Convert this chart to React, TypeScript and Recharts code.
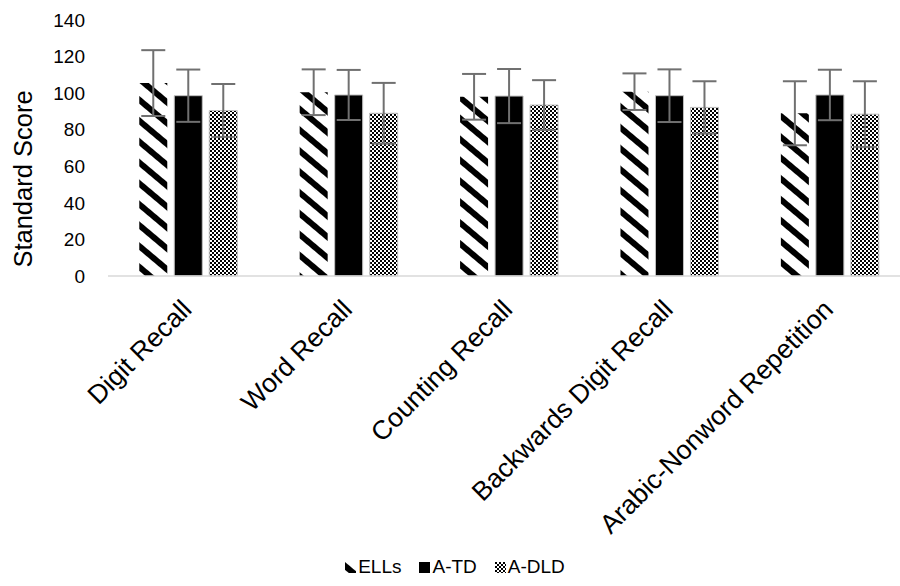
import React from "react";
import {
	BarChart,
	Bar,
	XAxis,
	YAxis,
	ErrorBar,
	Legend,
} from "recharts";

const categories = [
	"Digit Recall",
	"Word Recall",
	"Counting Recall",
	"Backwards Digit Recall",
	"Arabic-Nonword Repetition",
];
const ellsMean = [105.5, 100.5, 98, 100.8, 89];
const ellsSd = [18, 12.5, 12.5, 10, 17.5];
const atdMean = [98.6, 99, 98.4, 98.6, 99];
const atdSd = [14.3, 13.7, 14.8, 14.4, 13.8];
const adldMean = [90.5, 89, 93.5, 92.2, 88.5];
const adldSd = [14.5, 16.6, 13.6, 14.3, 18];
const yTicks = [0, 20, 40, 60, 80, 100, 120, 140];

const seriesInfo = [
	{ key: "ells", name: "ELLs", fill: "url(#stripes)" },
	{ key: "atd", name: "A-TD", fill: "#000000" },
	{ key: "adld", name: "A-DLD", fill: "url(#checker)" },
];

const data = categories.map((c, i) => ({
	name: c,
	ells: ellsMean[i],
	ellsErr: ellsSd[i],
	atd: atdMean[i],
	atdErr: atdSd[i],
	adld: adldMean[i],
	adldErr: adldSd[i],
}));

const FONT = "'Liberation Sans', Arial, sans-serif";

const AngledTick = (props: any) => {
	const { x, y, payload } = props;
	const ax = x + 5;
	const ay = y + 33;
	return (
		<text
			x={ax}
			y={ay}
			transform={`rotate(-45, ${ax}, ${ay})`}
			textAnchor="end"
			fontSize={26.5}
			fontFamily={FONT}
			fill="#000"
		>
			{payload.value}
		</text>
	);
};

const LegendContent = () => (
	<div
		style={{
			display: "flex",
			justifyContent: "center",
			alignItems: "center",
			height: 30,
			fontFamily: FONT,
			fontSize: 19,
			color: "#000",
		}}
	>
		{seriesInfo.map((s) => (
			<div
				key={s.key}
				style={{ display: "flex", alignItems: "baseline", margin: "0 9px" }}
			>
				<svg width={11} height={11} style={{ marginRight: 2 }}>
					<rect width={11} height={11} fill={s.fill} />
				</svg>
				<span>{s.name}</span>
			</div>
		))}
	</div>
);

const App = () => {
	return (
		<div
			style={{
				position: "absolute",
				left: 0,
				top: 0,
				width: 900,
				height: 586,
				overflow: "hidden",
				background: "#fff",
			}}
		>
			<BarChart
				width={910}
				height={586}
				data={data}
				margin={{ top: 20, right: 0, left: 0, bottom: 4 }}
				barCategoryGap="19.5%"
				barGap={7}
			>
				<defs>
					<pattern
						id="stripes"
						patternUnits="userSpaceOnUse"
						width={10}
						height={16}
						patternTransform="rotate(40)"
					>
						<rect width={10} height={16} fill="#fff" />
						<rect width={10} height={6} fill="#000" />
					</pattern>
					<pattern
						id="checker"
						patternUnits="userSpaceOnUse"
						width={4}
						height={4}
					>
						<rect width={4} height={4} fill="#fff" />
						<rect width={2} height={2} fill="#000" />
						<rect x={2} y={2} width={2} height={2} fill="#000" />
					</pattern>
				</defs>
				<XAxis
					dataKey="name"
					axisLine={{ stroke: "#d9d9d9", strokeWidth: 1.5 }}
					tickLine={false}
					tickSize={0}
					interval={0}
					height={276}
					tick={<AngledTick />}
				/>
				<YAxis
					domain={[0, 140]}
					ticks={yTicks}
					axisLine={false}
					tickLine={false}
					tickSize={0}
					tickMargin={23}
					width={108}
					tick={{ fontSize: 19, fontFamily: FONT, fill: "#000" }}
					label={{
						content: (p: any) => {
							const vb = p.viewBox;
							const lx = vb.x + 23;
							const ly = vb.y + vb.height / 2 + 31;
							return (
								<text
									x={lx}
									y={ly}
									transform={`rotate(-90, ${lx}, ${ly})`}
									textAnchor="middle"
									dominantBaseline="central"
									fontSize={25.5}
									fontFamily={FONT}
									fill="#000"
								>
									Standard Score
								</text>
							);
						},
					}}
				/>
				{seriesInfo.map((s) => (
					<Bar
						key={s.key}
						dataKey={s.key}
						name={s.name}
						fill={s.fill}
						stroke={s.key === "ells" ? "none" : "#bfbfbf"}
						strokeWidth={1}
						isAnimationActive={false}
					>
						<ErrorBar
							dataKey={`${s.key}Err`}
							width={12}
							stroke="#707070"
							strokeWidth={2}
						/>
					</Bar>
				))}
				<Legend
					verticalAlign="bottom"
					height={30}
					content={<LegendContent />}
				/>
			</BarChart>
		</div>
	);
};

export default App;
